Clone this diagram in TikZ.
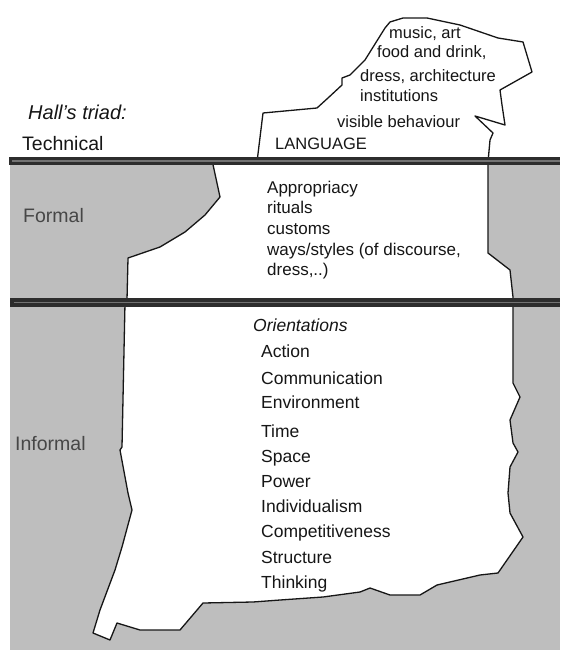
\documentclass[tikz,border=0pt]{standalone}
\usepackage{fontspec}
\setmainfont{Liberation Sans}
\definecolor{sea}{RGB}{190,190,190}
\definecolor{ink}{RGB}{22,22,22}
\definecolor{band}{RGB}{45,45,45}
\begin{document}
\begin{tikzpicture}[x=1pt,y=-1pt,
  outline/.style={draw=ink, line width=1.3pt, line join=round, fill=white},
  item/.style={anchor=base west, inner sep=0pt, text=ink, font=\fontsize{17.5}{20}\selectfont},
  topitem/.style={item, font=\fontsize{16.5}{19}\selectfont},
  formitem/.style={item, font=\fontsize{17}{20}\selectfont},
  level/.style={anchor=base west, inner sep=0pt, text=black!72, font=\fontsize{19.5}{22}\selectfont},
  waterband/.style={fill=band},
  waterseam/.style={draw=black!55, line width=1.1pt}
]
\useasboundingbox (0,0) rectangle (560,650);
\fill[white] (0,0) rectangle (560,650);

% water below the surface line
\fill[sea] (10,162) rectangle (560,650);

% submerged part of the iceberg (formal + informal levels)
\path[outline] (212,160) -- (220,197) -- (205,215) -- (185,232) -- (160,247)
  -- (128,258) -- (127,300) -- (125,303) -- (122,447) -- (120,450) -- (128,493)
  -- (132,510) -- (122,547) -- (115,570) -- (100,610) -- (93,633) -- (110,640)
  -- (117,623) -- (140,630) -- (180,630) -- (203,603) -- (253,602) -- (280,600)
  -- (323,597) -- (360,592) -- (370,588) -- (390,595) -- (420,595) -- (437,585)
  -- (480,575) -- (498,573) -- (523,537) -- (510,513) -- (508,493) -- (510,467)
  -- (518,452) -- (513,443) -- (510,420) -- (520,397) -- (513,383) -- (513,297)
  -- (510,270) -- (488,253) -- (488,160) -- cycle;

% visible tip of the iceberg (technical level)
\path[outline] (257,162) -- (263,113) -- (317,108) -- (328,98) -- (342,85)
  -- (342,78) -- (350,75) -- (365,60) -- (385,28) -- (390,22) -- (403,18)
  -- (427,18) -- (460,25) -- (498,38) -- (523,42) -- (532,72) -- (500,90)
  -- (502,105) -- (505,125) -- (475,116) -- (493,133) -- (490,140) -- (488,162)
  -- cycle;

% surface line and formal/informal boundary
\fill[waterband] (9,157) rectangle (560,165);
\draw[waterseam] (12,161) -- (560,161);
\fill[waterband] (10,298) rectangle (560,307);
\draw[waterseam] (14,302.5) -- (560,302.5);

% level labels
\node[level, text=ink, font=\fontsize{20}{22}\selectfont\itshape] (triad) at (28,120) {Hall's triad:};
\node[level, text=ink] (technical) at (22,150) {Technical};
\node[level] (formal) at (23,222) {Formal};
\node[level] (informal) at (15,450) {Informal};

% technical level contents
\node[topitem] (t1) at (389,39) {music, art};
\node[topitem] (t2) at (377,58) {food and drink,};
\node[topitem] (t3) at (360,82) {dress, architecture};
\node[topitem] (t4) at (360,102) {institutions};
\node[topitem] (t5) at (337,128) {visible behaviour};
\node[topitem] (t6) at (275,149) {LANGUAGE};

% formal level contents
\node[formitem] (f1) at (267,193) {Appropriacy};
\node[formitem] (f2) at (267,213) {rituals};
\node[formitem] (f3) at (267,234) {customs};
\node[formitem] (f4) at (267,255) {ways/styles (of discourse,};
\node[formitem] (f5) at (267,275) {dress,..)};

% informal level contents
\node[item, font=\fontsize{17.5}{20}\selectfont\itshape] (o0) at (253,331) {Orientations};
\node[item] (o1) at (261,357) {Action};
\node[item] (o2) at (261,384) {Communication};
\node[item] (o3) at (261,408) {Environment};
\node[item] (o4) at (261,437) {Time};
\node[item] (o5) at (261,462) {Space};
\node[item] (o6) at (261,487) {Power};
\node[item] (o7) at (261,512) {Individualism};
\node[item] (o8) at (261,537) {Competitiveness};
\node[item] (o9) at (261,563) {Structure};
\node[item] (o10) at (261,588) {Thinking};
\end{tikzpicture}
\end{document}
